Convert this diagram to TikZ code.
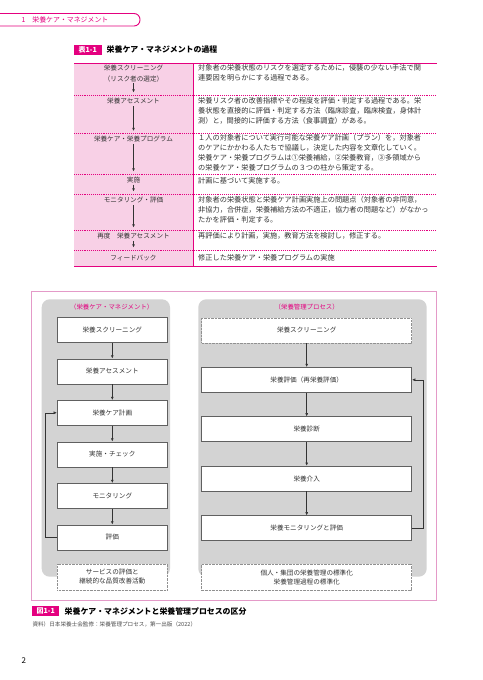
\documentclass[tikz,border=0pt]{standalone}
\usepackage{fontspec}
\setmainfont{Noto Sans CJK JP}
\usetikzlibrary{arrows.meta}
\definecolor{mag}{HTML}{E4007F}
\definecolor{tblpink}{HTML}{F8D0E6}
\definecolor{framepink}{HTML}{E49AC8}
\definecolor{panelgray}{HTML}{D3D3D3}
\definecolor{txt}{HTML}{333333}
\definecolor{boxline}{HTML}{606060}
\begin{document}
\begin{tikzpicture}[x=1pt,y=-1pt,
  tbltext/.style={anchor=north west, align=left, inner sep=0pt, text=txt, font=\fontsize{7.2}{10}\selectfont},
  lcoltext/.style={inner sep=0pt, text=txt, font=\fontsize{6.6}{8}\selectfont},
  solidsep/.style={draw=mag, line width=0.7pt},
  dotsep/.style={draw=mag, line width=0.9pt, dash pattern=on 1pt off 0.9pt},
  tarrow/.style={draw=txt, line width=0.5pt, -{Latex[length=3.2pt,width=2.8pt]}},
  farrow/.style={draw=txt, line width=0.6pt, -{Latex[length=3.4pt,width=3pt]}},
  lbox/.style={draw=boxline, fill=white, line width=0.6pt, minimum width=110pt, minimum height=25pt, inner sep=0pt, text=txt, font=\fontsize{6.6}{9}\selectfont, align=center},
  rbox/.style={lbox, minimum width=210pt},
  dotbox/.style={draw=boxline!70, dash pattern=on 0.7pt off 0.7pt},
  graypanel/.style={fill=panelgray, rounded corners=8pt},
  ptitle/.style={inner sep=0pt, text=mag, font=\fontsize{6.4}{8}\selectfont},
  tag/.style={fill=mag, text=white, inner sep=0pt, font=\bfseries\fontsize{7}{8}\selectfont},
]
\useasboundingbox[fill=white] (0,0) rectangle (482,680);

% ---------- header tab ----------
\draw[mag, line width=0.9pt, fill=white, rounded corners=6pt] (-12,13.5) rectangle (140,26);
\node[anchor=west, inner sep=0pt, text=mag, font=\fontsize{6.9}{8}\selectfont] (hdr) at (21.5,19.8) {1　栄養ケア・マネジメント};

% ---------- table caption ----------
\node[tag, minimum width=27.7pt, minimum height=10pt] (ttag) at (87.8,49.8) {表1-1};
\node[anchor=west, inner sep=0pt, text=black, font=\bfseries\fontsize{7.9}{9}\selectfont] (ttitle) at (106.5,49.8) {栄養ケア・マネジメントの過程};

% ---------- table ----------
\fill[tblpink] (74,63) rectangle (193,266);
\draw[solidsep] (74,63) -- (436.5,63);
\draw[solidsep] (74,266) -- (436.5,266);
\draw[draw=mag, line width=0.6pt] (193,63) -- (193,266);
\foreach \yy in {95,133,174,194,230,250} {
  \draw[dotsep] (74,\yy) -- (436.5,\yy);
}

% left column
\node[lcoltext] (l1a) at (133.5,68) {栄養スクリーニング};
\node[lcoltext] (l1b) at (133.5,78.5) {（リスク者の選定）};
\node[lcoltext] (l2) at (133.5,101) {栄養アセスメント};
\node[lcoltext] (l3) at (133.5,138.5) {栄養ケア・栄養プログラム};
\node[lcoltext] (l4) at (133.5,180) {実施};
\node[lcoltext] (l5) at (133.5,200) {モニタリング・評価};
\node[lcoltext] (l6) at (133.5,236) {再度　栄養アセスメント};
\node[lcoltext] (l7) at (133.5,258) {フィードバック};

\coordinate (e1) at (133.5,92.5);
\coordinate (e2) at (133.5,131);
\coordinate (e3) at (133.5,171.5);
\coordinate (e4) at (133.5,191.5);
\coordinate (e5) at (133.5,227.5);
\coordinate (e6) at (133.5,247.5);
\draw[tarrow] ([yshift=-1.5pt]l1b.south) -- (e1);
\draw[tarrow] ([yshift=-2pt]l2.south) -- (e2);
\draw[tarrow] ([yshift=-2pt]l3.south) -- (e3);
\draw[tarrow] ([yshift=-1.5pt]l4.south) -- (e4);
\draw[tarrow] ([yshift=-2pt]l5.south) -- (e5);
\draw[tarrow] ([yshift=-1.5pt]l6.south) -- (e6);

% right column
\node[tbltext] (r1) at (198,64.6) {対象者の栄養状態のリスクを選定するために，侵襲の少ない手法で関\\連要因を明らかにする過程である。};
\node[tbltext] (r2) at (198,97.6) {栄養リスク者の改善指標やその程度を評価・判定する過程である。栄\\養状態を直接的に評価・判定する方法（臨床診査，臨床検査，身体計\\測）と，間接的に評価する方法（食事調査）がある。};
\node[tbltext] (r3) at (198,134.2) {１人の対象者について実行可能な栄養ケア計画（プラン）を，対象者\\のケアにかかわる人たちで協議し，決定した内容を文章化していく。\\栄養ケア・栄養プログラムは①栄養補給，②栄養教育，③多領域から\\の栄養ケア・栄養プログラムの３つの柱から策定する。};
\node[tbltext] (r4) at (198,176.8) {計画に基づいて実施する。};
\node[tbltext] (r5) at (198,196.5) {対象者の栄養状態と栄養ケア計画実施上の問題点（対象者の非同意，\\非協力，合併症，栄養補給方法の不適正，協力者の問題など）がなかっ\\たかを評価・判定する。};
\node[tbltext] (r6) at (198,232.5) {再評価により計画，実施，教育方法を検討し，修正する。};
\node[tbltext] (r7) at (198,254.5) {修正した栄養ケア・栄養プログラムの実施};

% ---------- figure ----------
\draw[framepink, line width=0.8pt] (31.7,291.7) rectangle (436.5,600.5);
\fill[graypanel] (41.7,299.3) rectangle (170,576.7);
\fill[graypanel] (198.3,299.3) rectangle (426.7,576.7);

\node[ptitle] (lt) at (111.7,306.7) {（栄養ケア・マネジメント）};
\node[ptitle] (rt) at (306.7,306.7) {（栄養管理プロセス）};

% left chain
\node[lbox] (L1) at (112.3,329.8) {栄養スクリーニング};
\node[lbox] (L2) at (112.3,371.3) {栄養アセスメント};
\node[lbox] (L3) at (112.3,412.8) {栄養ケア計画};
\node[lbox] (L4) at (112.3,454.3) {実施・チェック};
\node[lbox] (L5) at (112.3,495.8) {モニタリング};
\node[lbox] (L6) at (112.3,537.3) {評価};
\node[lbox, dotbox, minimum height=26pt] (LB) at (112.3,577) {サービスの評価と\\継続的な品質改善活動};
\foreach \a/\b in {L1/L2,L2/L3,L3/L4,L4/L5,L5/L6} {
  \draw[tarrow] (\a.south) -- (\b.north);
}
\draw[farrow, -] (L6.west) -- ++(-11.6pt,0) coordinate (lfb);
\draw[farrow] (lfb) |- (L3.west);

% right chain
\node[rbox, dotbox] (R1) at (306.7,330.3) {栄養スクリーニング};
\node[rbox] (R2) at (306.7,379.8) {栄養評価（再栄養評価）};
\node[rbox] (R3) at (306.7,429.2) {栄養診断};
\node[rbox] (R4) at (306.7,478.5) {栄養介入};
\node[rbox] (R5) at (306.7,528.2) {栄養モニタリングと評価};
\node[rbox, dotbox, minimum height=26pt] (RB) at (306.7,577) {個人・集団の栄養管理の標準化\\栄養管理過程の標準化};
\foreach \a/\b in {R1/R2,R2/R3,R3/R4,R4/R5} {
  \draw[tarrow] (\a.south) -- (\b.north);
}
\draw[farrow, -] (R5.east) -- ++(11.6pt,0) coordinate (rfb);
\draw[farrow] (rfb) |- (R2.east);

% ---------- figure caption ----------
\node[tag, minimum width=27pt, minimum height=10pt] (ftag) at (45.8,611) {図1-1};
\node[anchor=west, inner sep=0pt, text=black, font=\bfseries\fontsize{7.9}{9}\selectfont] (ftitle) at (64.5,611) {栄養ケア・マネジメントと栄養管理プロセスの区分};
\node[anchor=west, inner sep=0pt, text=black!70, font=\fontsize{5.6}{7}\selectfont] (src) at (32.3,624.3) {資料）日本栄養士会監修：栄養管理プロセス，第一出版（2022）};

\node[anchor=west, inner sep=0pt, text=black, font=\fontsize{8}{9}\selectfont] (pg) at (21.5,660.7) {2};
\end{tikzpicture}
\end{document}
